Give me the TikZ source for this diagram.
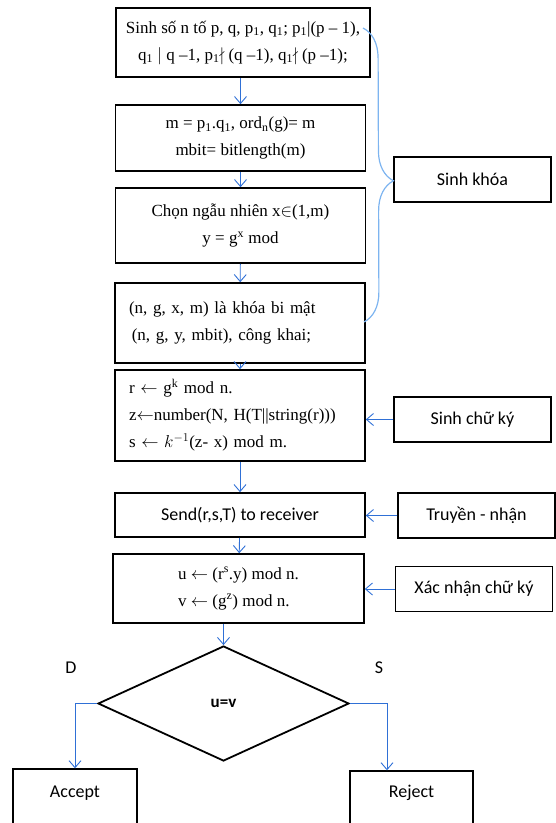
\documentclass[tikz,border=0pt]{standalone}
\usepackage{amsmath}
\usepackage{amssymb}
\usepackage{fontspec}
\setmainfont{Liberation Serif}
\newfontfamily\calfont{Carlito}
\usepackage{xcolor}
\usepackage{tikz}
\usetikzlibrary{arrows.meta,shapes.geometric,decorations.pathreplacing}
\definecolor{arrblue}{RGB}{47,112,214}
\definecolor{braceblue}{RGB}{125,180,240}
\tikzset{
  stepbox/.style={draw, line width=1.6pt, minimum width=250pt, inner sep=2pt, align=center, font=\fontsize{17}{27}\selectfont},
  sidebox/.style={draw, line width=1.4pt, minimum width=157pt, minimum height=45pt, font=\calfont\fontsize{18}{21}\selectfont},
  arr/.style={draw=arrblue, line width=0.9pt, -{Straight Barb[length=7pt,width=12pt]}},
}

\begin{document}
\begin{tikzpicture}[x=1pt, y=-1pt]
        \useasboundingbox (0,0) rectangle (556,823);
        \clip (0,0) rectangle (556,823);
        % main column
        \node (1) at (243, 42.5) [stepbox, minimum width=254pt, minimum height=69pt] {Sinh số n tố p, q, p\textsubscript{1}, q\textsubscript{1}; p\textsubscript{1}|(p – 1),\\ q\textsubscript{1} $\mid$ q –1, p\textsubscript{1}$\nmid$ (q –1), q\textsubscript{1}$\nmid$ (p –1);};
        \node (2) at (240.5, 138) [stepbox, minimum height=66pt] {m = p\textsubscript{1}.q\textsubscript{1}, ord\textsubscript{n}(g)= m\\ mbit= bitlength(m)};
        \node (3) at (240.5, 225.5) [stepbox, minimum height=75pt] {Chọn ngẫu nhiên x$\in$(1,m)\\ y = g\textsuperscript{x} mod};
        \node (4) at (240, 323) [stepbox, minimum height=80pt, text width=222pt, align=left] {(n, g, x, m) là khóa bi mật\\ \,(n, g, y, mbit), công khai;};
        \node (5) at (240, 415.5) [stepbox, minimum height=91pt, text width=222pt, align=left] {r $\leftarrow$ g\textsuperscript{k} mod n.\\ z$\leftarrow$number(N, H(T||string(r)))\\ s $\leftarrow$ $k^{-1}$(z- x) mod m.};
        \node (6) at (240, 515) [stepbox, minimum height=44pt, font=\calfont\fontsize{18}{21}\selectfont] {Send(r,s,T) to receiver};
        \node (7) at (238.5, 588.5) [stepbox, minimum width=251pt, minimum height=69pt, align=left] {u $\leftarrow$ (r\textsuperscript{s}.y) mod n.\\ v $\leftarrow$ (g\textsuperscript{z}) mod n.};
        \node (8) at (223.5, 703.5) [diamond, draw, line width=1.8pt, minimum width=251pt, minimum height=115pt, inner sep=0pt, font=\calfont\bfseries\fontsize{17}{19}\selectfont] {u=v};
        % side labels
        \node (k) at (472.5, 179.5) [sidebox] {Sinh khóa};
        \node (c) at (472.5, 419.5) [sidebox] {Sinh chữ ký};
        \node (t) at (476.5, 515.5) [sidebox] {Truyền - nhận};
        \node (x) at (474, 589) [sidebox] {Xác nhận chữ ký};
        % results
        \node (a) at (75, 799) [sidebox, minimum width=124pt, minimum height=60pt, text height=12pt, text depth=16pt] {Accept};
        \node (r) at (411.5, 801) [sidebox, minimum width=123pt, minimum height=60pt, text height=12pt, text depth=20pt] {Reject};
        \node (d) at (71, 668) [font=\calfont\fontsize{18}{21}\selectfont] {D};
        \node (s) at (379, 668) [font=\calfont\fontsize{18}{21}\selectfont] {S};
        % flow
        \draw [arr] (1.south -| 2) -- (2);
        \draw [arr] (2) -- (3);
        \draw [arr] (3) -- (4);
        \draw [arr] (4) -- (5);
        \draw [arr] (5) -- (6);
        \draw [arr] (6) -- (7);
        \draw [arr] (7.south -| 8) -- (8.north);
        \draw [arr] (8.west) -| (a.north);
        \draw [arr] (8.east) -| ([xshift=-24.5pt]r.north);
        \draw [arr] (c.west) -- (c.west -| 5.east);
        \draw [arr] (t.west) -- (t.west -| 6.east);
        \draw [arr] (x.west) -- (x.west -| 7.east);
        % brace for key generation
        \coordinate (b1) at (363, 28);
        \coordinate (b2) at (364, 322);
        \draw [braceblue, line width=1.2pt, decorate, decoration={brace, amplitude=30pt, aspect=0.52}] (b1) -- (b2);
    \end{tikzpicture}
\end{document}
